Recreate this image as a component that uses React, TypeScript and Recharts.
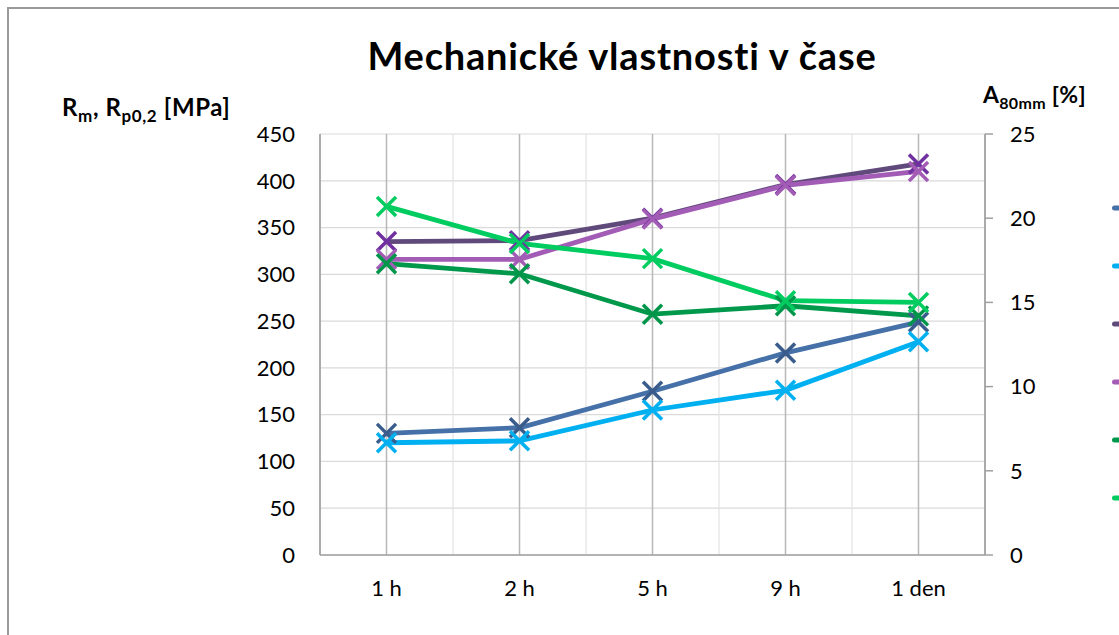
import React from 'react';
import { LineChart, Line, XAxis, YAxis, CartesianGrid } from 'recharts';

// categories and values
const CATEGORIES = ['1 h', '2 h', '5 h', '9 h', '1 den'];
const RP_1 = [130, 136, 175, 216, 249];
const RP_2 = [120, 122, 155, 176, 228];
const RM_1 = [335, 336, 360, 396, 418];
const RM_2 = [316, 316, 359, 395, 410];
const A_1 = [17.3, 16.7, 14.3, 14.8, 14.2];
const A_2 = [20.7, 18.5, 17.6, 15.1, 15.0];

const LEFT_TICKS = [0, 50, 100, 150, 200, 250, 300, 350, 400, 450];
const RIGHT_TICKS = [0, 5, 10, 15, 20, 25];

const SERIES = [
  { key: 'rp1', name: 'Rp0,2 – 1', values: RP_1, axis: 'l', color: '#4570A8', mark: '#395C8C' },
  { key: 'rp2', name: 'Rp0,2 – 2', values: RP_2, axis: 'l', color: '#00B0F0', mark: '#00B0F0' },
  { key: 'rm1', name: 'Rm – 1', values: RM_1, axis: 'l', color: '#604A7B', mark: '#7030A0' },
  { key: 'rm2', name: 'Rm – 2', values: RM_2, axis: 'l', color: '#A35CB5', mark: '#A35CB5' },
  { key: 'a1', name: 'A80mm – 1', values: A_1, axis: 'r', color: '#00984A', mark: '#00964A' },
  { key: 'a2', name: 'A80mm – 2', values: A_2, axis: 'r', color: '#00CC60', mark: '#00CC60' },
];

const data = CATEGORIES.map((name, i) => {
  const row: Record<string, string | number> = { name };
  SERIES.forEach(s => { row[s.key] = s.values[i]; });
  return row;
});

const FONT = 'Lato, "Open Sans", sans-serif';
const W = 1119;
const H = 635;
const MARGIN = { top: 134, right: 34, bottom: 50, left: 0 };
const LEFT_W = 320;
const RIGHT_W = 100;
const PLOT_W = W - MARGIN.left - MARGIN.right - LEFT_W - RIGHT_W;
const HALF_BAND = PLOT_W / CATEGORIES.length / 2;

const makeCross = (color: string) => (props: any) => {
  const { cx, cy, index } = props;
  if (cx == null || cy == null) return null;
  const r = 9.5;
  return (
    <g key={`x-${index}`}>
      <line x1={cx - r} y1={cy - r} x2={cx + r} y2={cy + r} stroke={color} strokeWidth={3.5} />
      <line x1={cx - r} y1={cy + r} x2={cx + r} y2={cy - r} stroke={color} strokeWidth={3.5} />
    </g>
  );
};

// light gridlines on the category boundaries
const boundaryLines = ({ offset }: any) => {
  const out: number[] = [];
  for (let i = 1; i < CATEGORIES.length; i++) {
    out.push(offset.left + (offset.width * i) / CATEGORIES.length);
  }
  return out;
};

export default function App() {
  return (
    <div style={{ position: 'relative', width: W, height: H, overflow: 'hidden', background: '#fff', fontFamily: FONT }}>
      <style>{'body{margin:0;overflow:hidden}'}</style>
      <div style={{ position: 'absolute', left: 7, top: 7, width: 1300, height: 700, border: '2px solid #9a9a9a' }} />

      <div style={{ position: 'absolute', left: 222, width: 800, top: 32, textAlign: 'center', fontSize: 38, fontWeight: 700, letterSpacing: 0.8, color: '#000' }}>
        Mechanické vlastnosti v čase
      </div>
      <div style={{ position: 'absolute', left: 62, top: 92, fontSize: 24, fontWeight: 700, letterSpacing: 0.6, color: '#000', whiteSpace: 'nowrap' }}>
        R<sub style={{ fontSize: 17 }}>m</sub>, R<sub style={{ fontSize: 17 }}>p0,2</sub> [MPa]
      </div>
      <div style={{ position: 'absolute', left: 983, top: 80, fontSize: 23, fontWeight: 700, letterSpacing: 0.3, color: '#000', whiteSpace: 'nowrap' }}>
        A<sub style={{ fontSize: 16 }}>80mm</sub> [%]
      </div>

      <div style={{ position: 'absolute', left: 0, top: 0 }}>
        <LineChart width={W} height={H} data={data} margin={MARGIN}>
          <CartesianGrid yAxisId="l" stroke="#dadada" strokeWidth={1.2} vertical={false} />
          <CartesianGrid yAxisId="l" stroke="#e2e2e2" strokeWidth={1.2} horizontal={false} verticalCoordinatesGenerator={boundaryLines} />
          <CartesianGrid yAxisId="l" stroke="#b8b8b8" strokeWidth={1.5} horizontal={false} />
          <XAxis
            dataKey="name"
            padding={{ left: HALF_BAND, right: HALF_BAND }}
            axisLine={{ stroke: '#a0a0a0', strokeWidth: 1.5 }}
            tickLine={false}
            tickSize={0}
            tickMargin={25}
            height={30}
            tick={{ fill: '#000', fontSize: 22, fontFamily: FONT }}
          />
          <YAxis
            yAxisId="l"
            domain={[0, 450]}
            ticks={LEFT_TICKS}
            width={LEFT_W}
            axisLine={{ stroke: '#a0a0a0', strokeWidth: 1.5 }}
            tickLine={false}
            tickSize={0}
            tickMargin={25}
            tick={{ fill: '#000', fontSize: 22, fontFamily: FONT }}
          />
          <YAxis
            yAxisId="r"
            orientation="right"
            domain={[0, 25]}
            ticks={RIGHT_TICKS}
            width={RIGHT_W}
            axisLine={{ stroke: '#a0a0a0', strokeWidth: 1.5 }}
            tickLine={{ stroke: '#a0a0a0', strokeWidth: 1.5 }}
            tickSize={8}
            tickMargin={17}
            tick={{ fill: '#000', fontSize: 22, fontFamily: FONT, textAnchor: 'start' }}
          />
          {SERIES.map(s => (
            <Line
              key={s.key}
              yAxisId={s.axis}
              dataKey={s.key}
              name={s.name}
              type="linear"
              stroke={s.color}
              strokeWidth={4.8}
              dot={makeCross(s.mark)}
              activeDot={false}
              isAnimationActive={false}
            />
          ))}
        </LineChart>
      </div>

      {/* legend keys; their labels lie beyond the right edge, as in the reference */}
      {SERIES.map((s, i) => (
        <svg key={s.key} style={{ position: 'absolute', left: 1112, top: 208 + i * 58 - 10 }} width={20} height={20}>
          <line x1={2.5} y1={10} x2={30} y2={10} stroke={s.color} strokeWidth={5} strokeLinecap="round" />
        </svg>
      ))}
    </div>
  );
}
